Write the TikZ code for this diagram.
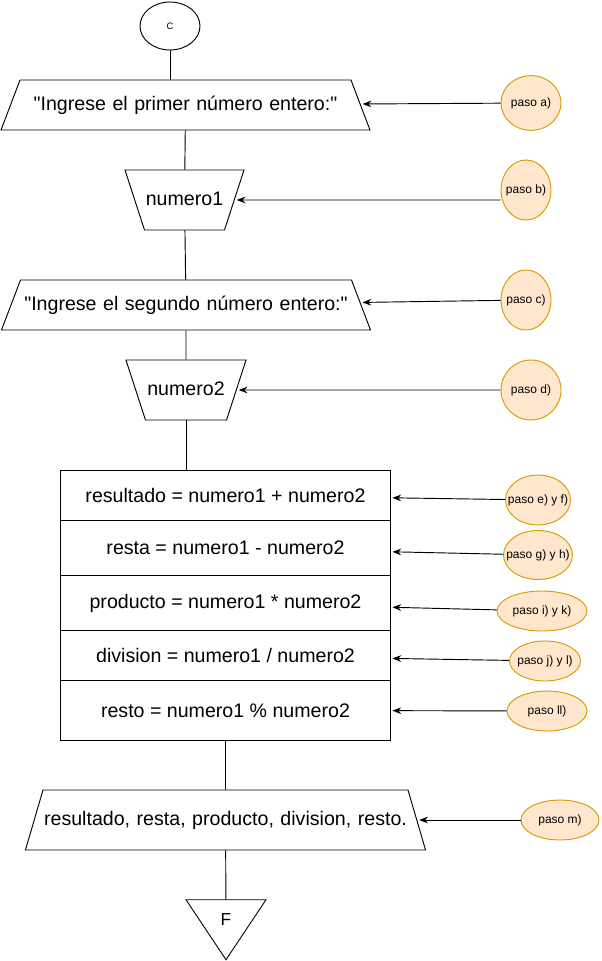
\documentclass[tikz,border=0pt]{standalone}
\usepackage{fontspec}
\setmainfont{Liberation Sans}
\usepackage{tikz}
\usetikzlibrary{arrows.meta, positioning, shapes.geometric}
\definecolor{pasofill}{HTML}{FFE6CC}
\definecolor{pasodraw}{HTML}{D79B00}

\begin{document}
\begin{tikzpicture}[
    x=0.75pt, y=-0.75pt,
    line width=0.7pt,
    >={Stealth[length=6.5pt, width=5pt]},
    every node/.style={font=\fontsize{14.7pt}{17pt}\selectfont, inner sep=0pt},
    entrada/.style={draw, trapezium, inner xsep=0pt, align=center,
      text height=11pt, text depth=3pt},
    fila/.style={draw, rectangle, minimum width=247.5pt, outer sep=0pt},
    pasonodo/.style={draw=pasodraw, fill=pasofill, ellipse, inner xsep=-6pt,
      font=\fontsize{9pt}{11pt}\selectfont},
    flecha/.style={->, shorten >=1.5pt},
  ]
  \useasboundingbox (0,0) rectangle (601,961);

  % flujo principal
  \node[draw, ellipse, minimum width=45pt, minimum height=36pt, font=\fontsize{7pt}{8pt}\selectfont] (c) at (170,26) {C};
  \node[entrada, text width=248.25pt, inner ysep=11.75pt, trapezium angle=69.2] (p1) at (185.5,105) {\textquotedbl Ingrese el primer número entero:\textquotedbl};
  \node[entrada, text width=60pt, inner ysep=15.5pt, trapezium angle=108] (num1) at (184.5,200) {numero1};
  \node[entrada, text width=248.25pt, inner ysep=11.75pt, trapezium angle=69.2] (p2) at (186,305) {\textquotedbl Ingrese el segundo número entero:\textquotedbl};
  \node[entrada, text width=60.8pt, inner ysep=15.5pt, trapezium angle=108] (num2) at (186,390) {numero2};

  \node[fila, minimum height=38pt] (r1) at (225.5,495.3) {resultado = numero1 + numero2};
  \node[fila, minimum height=41.25pt, below=0pt of r1] (r2) {resta = numero1 - numero2};
  \node[fila, minimum height=41.25pt, below=0pt of r2] (r3) {producto = numero1 * numero2};
  \node[fila, minimum height=37.5pt, below=0pt of r3] (r4) {division = numero1 / numero2};
  \node[fila, minimum height=44.5pt, below=0pt of r4] (r5) {resto = numero1 \% numero2};

  \node[entrada, text width=273.75pt, inner ysep=15.5pt, trapezium angle=73.7] (p3) at (225.5,820) {resultado, resta, producto, division, resto.};
  \node[draw, isosceles triangle, isosceles triangle stretches, shape border rotate=270,
    minimum width=60pt, minimum height=45pt, font=\fontsize{13pt}{15pt}\selectfont] (fin) at (226,920) {F};

  % pasos
  \node[pasonodo, minimum width=45pt, minimum height=41pt] (pa) at (531,103) {paso a)};
  \node[pasonodo, minimum width=37.5pt, minimum height=45pt] (pb) at (526,190) {paso b)};
  \node[pasonodo, minimum width=37.5pt, minimum height=45pt] (pc) at (526,300) {paso c)};
  \node[pasonodo, minimum width=45pt, minimum height=45pt] (pd) at (531,390) {paso d)};
  \node[pasonodo, minimum width=48.75pt, minimum height=37.5pt] (pef) at (538,500) {paso e) y f)};
  \node[pasonodo, minimum width=51.75pt, minimum height=36.75pt] (pgh) at (538,555) {paso g) y h)};
  \node[pasonodo, minimum width=67.5pt, minimum height=30pt] (pik) at (542,611) {paso i) y k)};
  \node[pasonodo, minimum width=53.25pt, minimum height=30pt] (pjl) at (545,661) {paso j) y l)};
  \node[pasonodo, minimum width=60pt, minimum height=30pt] (pll) at (547,711) {paso ll)};
  \node[pasonodo, minimum width=58.5pt, minimum height=30pt] (pm) at (560,820) {paso m)};

  % conectores
  \draw (c.south) -- (c.south |- p1.north);
  \draw (p1) -- (num1);
  \draw (num1) -- (p2);
  \draw (p2) -- (num2);
  \draw (num2.south) -- (num2.south |- r1.north);
  \draw (r5) -- (p3);
  \draw (p3) -- (fin);

  \draw[flecha] (pa) -- (p1);
  \draw[flecha] (pb.west |- num1) -- (num1);
  \draw[flecha] (pc) -- (p2);
  \draw[flecha] (pd) -- (num2);
  \draw[flecha] (pef) -- (r1);
  \draw[flecha] (pgh) -- (r2);
  \draw[flecha] (pik) -- (r3);
  \draw[flecha] (pjl) -- (r4);
  \draw[flecha] (pll) -- (r5);
  \draw[flecha] (pm) -- (p3);
\end{tikzpicture}
\end{document}
